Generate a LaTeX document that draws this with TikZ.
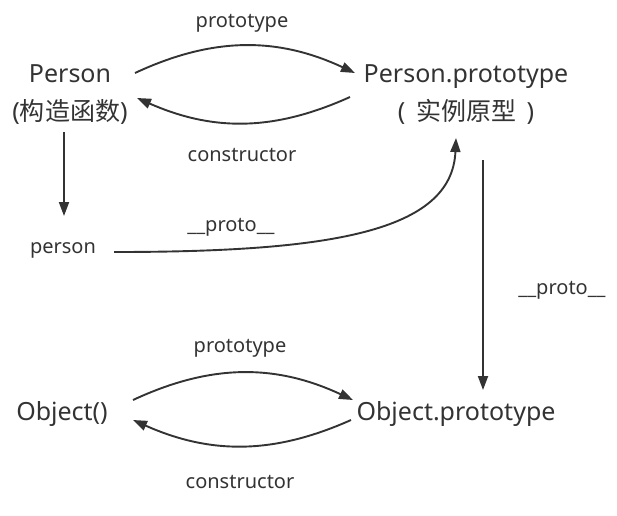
\documentclass[tikz,border=0pt]{standalone}
\usepackage{fontspec}
\setmainfont{Noto Sans}
\newfontfamily\cjk{Noto Sans CJK SC}
\usetikzlibrary{arrows.meta}
\definecolor{ink}{HTML}{333333}
\begin{document}
\begin{tikzpicture}[x=1pt,y=-1pt,
  big/.style={font=\fontsize{25}{38}\selectfont, text=ink, inner sep=0pt, align=center},
  small/.style={font=\fontsize{20}{24}\selectfont, text=ink, inner sep=0pt},
  arr/.style={draw=ink, line width=1.9pt, -{Triangle[length=14pt,width=10pt]}},
  ]
\useasboundingbox (0,0) rectangle (617,515);
% main nodes
\node[big] (P) at (70,95) {Person\\({\cjk 构造函数})};
\node[big] (PP) at (466,95) {Person.prototype\\(\, {\cjk 实例原型} \,)};
\node[small] (ps) at (63,250) {person};
\node[big, anchor=base] (O) at (62,420) {Object()};
\node[big, anchor=base] (OP) at (456,420) {Object.prototype};
% labels
\node[small] (l1) at (242,23) {prototype};
\node[small] (l2) at (242,155) {constructor};
\node[small] (l3) at (231,227) {\_\_proto\_\_};
\node[small] (l4) at (562,290) {\_\_proto\_\_};
\node[small] (l5) at (240,348) {prototype};
\node[small] (l6) at (240,482) {constructor};
% top pair
\draw[arr] ([xshift=65pt,yshift=22pt]P.center) to[bend left=25] ([xshift=-111pt,yshift=22pt]PP.center);
\draw[arr] ([xshift=-116pt,yshift=-2pt]PP.center) to[bend left=24] ([xshift=67pt,yshift=-3pt]P.center);
% Person -> person
\draw[arr] ([xshift=-6pt,yshift=-37pt]P.center) -- ([xshift=1pt,yshift=34pt]ps.center);
% person -> Person.prototype
\draw[arr] ([xshift=51pt,yshift=-2pt]ps.center) .. controls (330,252) and (452,232) .. ([xshift=-10pt,yshift=-43pt]PP.center);
% Person.prototype -> Object.prototype
\draw[arr] ([xshift=17pt,yshift=-65pt]PP.center) -- ([xshift=27pt,yshift=30pt]OP.base);
% bottom pair
\draw[arr] ([xshift=71pt,yshift=20pt]O.base) to[bend left=25] ([xshift=-103pt,yshift=20pt]OP.base);
\draw[arr] ([xshift=-105pt,yshift=0pt]OP.base) to[bend left=24] ([xshift=71pt,yshift=0pt]O.base);
\end{tikzpicture}
\end{document}
